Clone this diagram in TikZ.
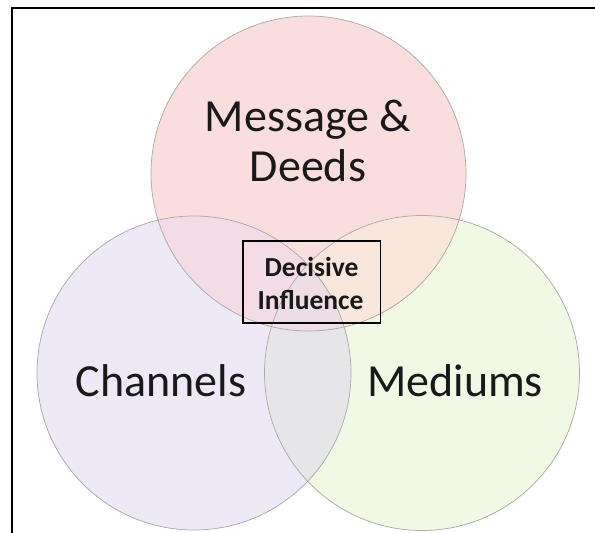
\documentclass[tikz,border=0pt]{standalone}
\usepackage{fontspec}
\setmainfont{Carlito}
\definecolor{pinkc}{HTML}{FADDDD}
\definecolor{lavc}{HTML}{EEE9F6}
\definecolor{greenc}{HTML}{F1F9E5}
\definecolor{pinklav}{HTML}{F4DCE6}
\definecolor{peach}{HTML}{FAE7DC}
\definecolor{grayov}{HTML}{E6E6E8}
\definecolor{triple}{HTML}{ECDEE4}
\definecolor{edgec}{HTML}{A8A8A8}
\tikzset{
  big/.style={font=\fontsize{46}{50}\selectfont, text=black!90, inner sep=0pt, anchor=base},
  centerbox/.style={draw=black, line width=1.8pt, minimum width=137.5pt, minimum height=82pt},
  small/.style={font=\bfseries\fontsize{27.5}{33}\selectfont, text=black!90, inner sep=0pt, anchor=base},
  outline/.style={draw=edgec, line width=0.7pt}
}
\begin{document}
\begin{tikzpicture}[x=1pt,y=-1pt]
\useasboundingbox (0,0) rectangle (595,533);
\fill[white] (0,0) rectangle (595,533);
\def\T{(308.5,173.5) circle[radius=157.5]}
\def\L{(194,373) circle[radius=157]}
\def\R{(422,373) circle[radius=157.5]}
\fill[pinkc] \T;
\fill[lavc] \L;
\fill[greenc] \R;
\begin{scope}\clip \T; \fill[pinklav] \L; \end{scope}
\begin{scope}\clip \T; \fill[peach] \R; \end{scope}
\begin{scope}\clip \L; \fill[grayov] \R; \end{scope}
\begin{scope}\clip \T; \clip \L; \fill[triple] \R; \end{scope}
\draw[outline] \T;
\draw[outline] \L;
\draw[outline] \R;
\node[big] (msg) at (308,131) {Message \&};
\node[big] (deeds) at (308,181.6) {Deeds};
\node[big] (chan) at (161,396) {Channels};
\node[big] (med) at (455,396) {Mediums};
\node[centerbox] (dec) at (311.75,282) {};
\node[small] (dec1) at (311.5,276) {Decisive};
\node[small] (dec2) at (310.5,309) {Influence};
\draw[line width=2pt] (12,533) coordinate (fb) -- (12,8) coordinate (fc) -- (595,8) coordinate (fr);
\end{tikzpicture}
\end{document}
